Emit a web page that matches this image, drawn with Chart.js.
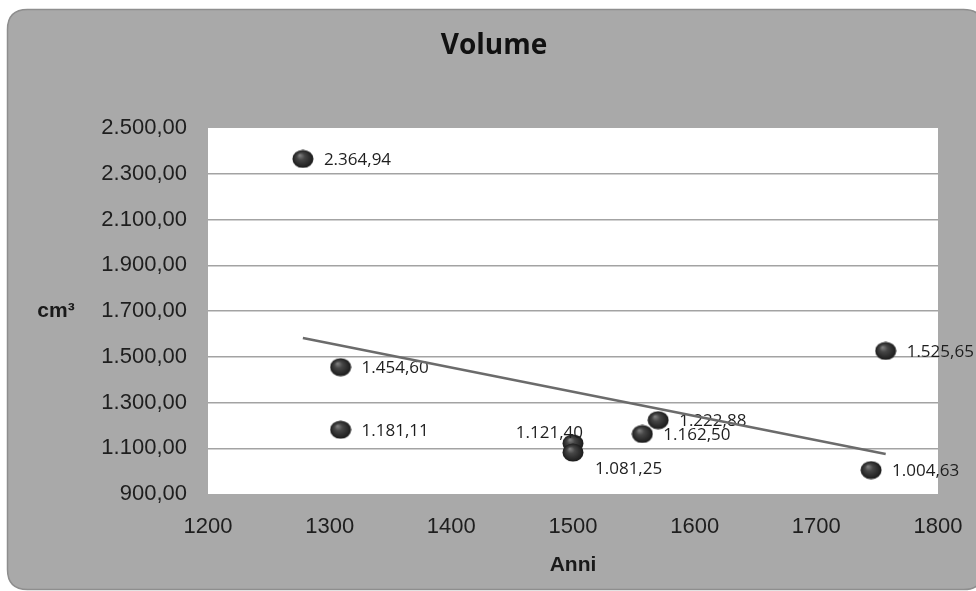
<!DOCTYPE html>
<html>
<head>
<meta charset="utf-8">
<script src="https://cdn.jsdelivr.net/npm/chart.js@4"></script>
<style>
  html, body { margin: 0; padding: 0; background: #ffffff; }
  #wrap { width: 976px; height: 591px; position: relative; }
</style>
</head>
<body>
<div id="wrap"><canvas id="c" width="976" height="591"></canvas></div>
<script>
// ---- data ----
const years   = [1278, 1309, 1309, 1500, 1500, 1557, 1570, 1745, 1757];
const volumes = [2364.94, 1454.60, 1181.11, 1121.40, 1081.25, 1162.50, 1222.88, 1004.63, 1525.65];
const trendX  = [1278, 1757];
const trendY  = [1582, 1075];
const yTicks  = [900, 1100, 1300, 1500, 1700, 1900, 2100, 2300, 2500];
const xTicks  = [1200, 1300, 1400, 1500, 1600, 1700, 1800];
const titleText = 'Volume';
const xTitle = 'Anni';
const yTitle = 'cm³';
// label placement per point (style only)
const labelPlace = ['right','right','right','leftUp','rightDown','right','right','right','right'];

function fmt(v) {
  const neg = v < 0; v = Math.abs(v);
  const parts = v.toFixed(2).split('.');
  const intPart = parts[0].replace(/\B(?=(\d{3})+(?!\d))/g, '.');
  return (neg ? '-' : '') + intPart + ',' + parts[1];
}

// sphere marker
function makeSphere() {
  const w = 22, h = 19;
  const cv = document.createElement('canvas');
  cv.width = w; cv.height = h;
  const g = cv.getContext('2d');
  g.save();
  g.translate(w/2, h/2);
  g.scale(1, h/w);
  const r = w/2 - 0.5;
  const grad = g.createRadialGradient(-r*0.3, -r*0.4, r*0.05, 0, 0, r);
  grad.addColorStop(0, '#7e7e7e');
  grad.addColorStop(0.35, '#464646');
  grad.addColorStop(0.8, '#282828');
  grad.addColorStop(1, '#1a1a1a');
  g.beginPath();
  g.arc(0, 0, r, 0, Math.PI*2);
  g.fillStyle = grad;
  g.fill();
  g.restore();
  return cv;
}
const sphere = makeSphere();

const bgPlugin = {
  id: 'bg',
  beforeDraw(chart) {
    const ctx = chart.ctx;
    ctx.save();
    ctx.fillStyle = '#ffffff';
    ctx.fillRect(0, 0, chart.width, chart.height);
    // card
    const x = 7.5, y = 9.5, w = 976, h = 580, r = 20;
    ctx.beginPath();
    ctx.moveTo(x + r, y);
    ctx.lineTo(x + w - r, y);
    ctx.quadraticCurveTo(x + w, y, x + w, y + r);
    ctx.lineTo(x + w, y + h - r);
    ctx.quadraticCurveTo(x + w, y + h, x + w - r, y + h);
    ctx.lineTo(x + r, y + h);
    ctx.quadraticCurveTo(x, y + h, x, y + h - r);
    ctx.lineTo(x, y + r);
    ctx.quadraticCurveTo(x, y, x + r, y);
    ctx.closePath();
    ctx.fillStyle = '#a9a9a9';
    ctx.fill();
    ctx.strokeStyle = '#8e8e8e';
    ctx.lineWidth = 1.5;
    ctx.stroke();
    // plot area
    const a = chart.chartArea;
    ctx.fillStyle = '#ffffff';
    ctx.fillRect(a.left, a.top, a.right - a.left, a.bottom - a.top);
    ctx.restore();
  },
  afterDraw(chart) {
    const ctx = chart.ctx;
    const ys = chart.scales.y;
    ctx.save();
    ctx.textAlign = 'center';
    ctx.textBaseline = 'middle';
    ctx.fillStyle = '#111111';
    ctx.font = 'bold 28px "Open Sans", sans-serif';
    ctx.fillText(titleText, 494, 46);
    ctx.font = 'bold 21px "Liberation Sans", Arial, sans-serif';
    ctx.fillStyle = '#1a1a1a';
    ctx.fillText(yTitle, 56, ys.getPixelForValue(1700));
    ctx.restore();
  }
};

const labelPlugin = {
  id: 'pointLabels',
  afterDatasetDraw(chart, args) {
    if (args.index !== 1) return;
    const ctx = chart.ctx;
    const meta = args.meta;
    ctx.save();
    ctx.font = '17px "Open Sans", sans-serif';
    ctx.fillStyle = '#1e1e1e';
    ctx.textBaseline = 'middle';
    meta.data.forEach((pt, i) => {
      const txt = fmt(volumes[i]);
      const place = labelPlace[i];
      if (place === 'leftUp') {
        ctx.textAlign = 'right';
        ctx.fillText(txt, pt.x + 10, pt.y - 10);
      } else if (place === 'rightDown') {
        ctx.textAlign = 'left';
        ctx.fillText(txt, pt.x + 22, pt.y + 17);
      } else {
        ctx.textAlign = 'left';
        ctx.fillText(txt, pt.x + 21, pt.y + 1);
      }
    });
    ctx.restore();
  }
};

const ctx = document.getElementById('c').getContext('2d');
new Chart(ctx, {
  type: 'scatter',
  data: {
    datasets: [
      {
        type: 'line',
        label: 'trend',
        data: trendX.map((x, i) => ({ x: x, y: trendY[i] })),
        borderColor: '#6b6b6b',
        borderWidth: 2.5,
        pointRadius: 0,
        fill: false,
        showLine: true
      },
      {
        label: 'Volume',
        data: years.map((x, i) => ({ x: x, y: volumes[i] })),
        pointStyle: sphere,
        pointRadius: 11,
        pointHoverRadius: 11
      }
    ]
  },
  options: {
    responsive: false,
    animation: false,
    devicePixelRatio: 1,
    layout: { padding: { left: 0, right: 38, top: 128, bottom: 0 } },
    plugins: {
      legend: { display: false },
      tooltip: { enabled: false },
      title: { display: false }
    },
    scales: {
      x: {
        type: 'linear',
        min: 1200, max: 1800,
        afterBuildTicks(s) { s.ticks = xTicks.map(v => ({ value: v })); },
        afterFit(s) { s.height = 97; s.paddingLeft = 0; s.paddingRight = 0; },
        grid: { display: false, drawTicks: false },
        border: { display: false },
        ticks: {
          color: '#1e1e1e',
          padding: 20,
          maxRotation: 0,
          font: { family: '"Liberation Sans", Arial, sans-serif', size: 22 },
          callback: (v) => String(v)
        },
        title: {
          display: true,
          text: xTitle,
          color: '#1a1a1a',
          font: { family: '"Liberation Sans", Arial, sans-serif', size: 21, weight: 'bold', lineHeight: 1.2 },
          padding: { top: 0, bottom: 13 }
        }
      },
      y: {
        type: 'linear',
        min: 900, max: 2500,
        afterBuildTicks(s) { s.ticks = yTicks.map(v => ({ value: v })); },
        afterFit(s) { s.width = 208; s.paddingTop = 0; s.paddingBottom = 0; },
        grid: {
          drawTicks: false,
          lineWidth: 1.5,
          color: (c) => (c.tick && (c.tick.value === 900 || c.tick.value === 2500)) ? 'rgba(0,0,0,0)' : '#a3a3a3'
        },
        border: { display: false },
        ticks: {
          color: '#1e1e1e',
          padding: 21,
          font: { family: '"Liberation Sans", Arial, sans-serif', size: 22 },
          callback: (v) => fmt(v)
        }
      }
    }
  },
  plugins: [bgPlugin, labelPlugin]
});
</script>
</body>
</html>
